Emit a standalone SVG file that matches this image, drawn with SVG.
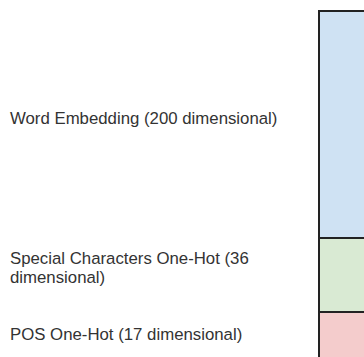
<svg xmlns="http://www.w3.org/2000/svg" width="364" height="357" viewBox="0 0 364 357">
<style>
.lbl{font-family:"Liberation Sans",Arial,sans-serif;font-size:16.8px;fill:#333333}
.seg{stroke:#222222;stroke-width:2}
</style>
<rect width="364" height="357" fill="#ffffff"/>
<g id="word-embedding">
<rect class="seg" x="319" y="11" width="60" height="227" fill="#cfe2f3"/>
<text class="lbl" x="10" y="123.5">Word Embedding (200 dimensional)</text>
</g>
<g id="special-characters">
<rect class="seg" x="319" y="238" width="60" height="74" fill="#d9ead3"/>
<text class="lbl" x="10" y="263.5">Special Characters One-Hot (36</text>
<text class="lbl" x="10" y="282.5">dimensional)</text>
</g>
<g id="pos-one-hot">
<rect class="seg" x="319" y="312" width="60" height="60" fill="#f4cccc"/>
<text class="lbl" x="10" y="339.5">POS One-Hot (17 dimensional)</text>
</g>
<g id="connectors"/>
</svg>
